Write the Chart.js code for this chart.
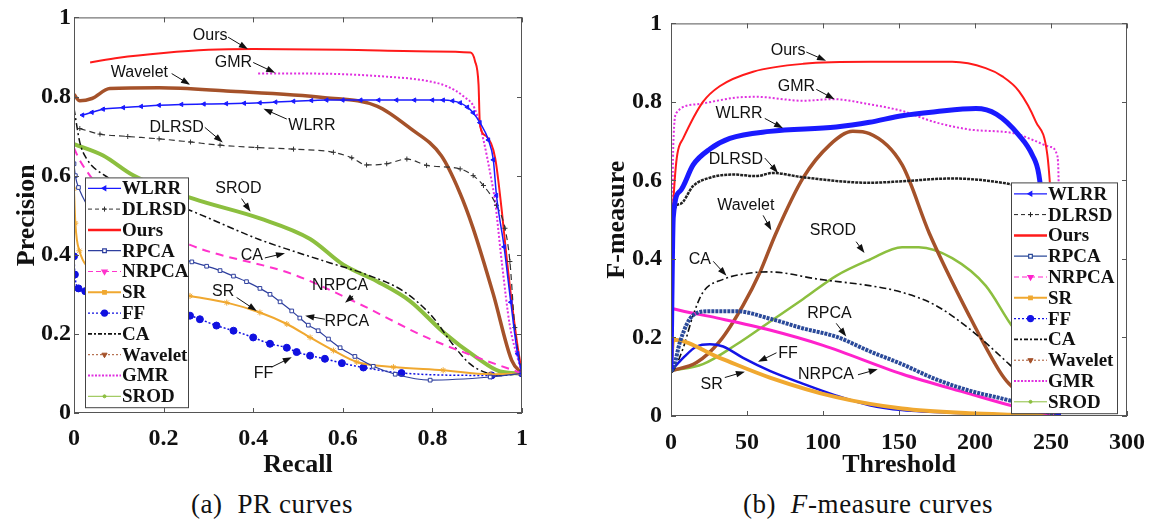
<!DOCTYPE html>
<html>
<head>
<meta charset="utf-8">
<script src="https://cdn.jsdelivr.net/npm/chart.js@4.4.1/dist/chart.umd.min.js"></script>
<style>
  body { margin: 0; background: #fff; width: 1157px; height: 529px; overflow: hidden; position: relative; }
  canvas { position: absolute; top: 0; }
  #prChart { left: 0; }
  #fmChart { left: 580px; }
  .cap { position: absolute; top: 489px; font-family: 'Liberation Serif', serif; font-size: 27px; letter-spacing: 0.6px; color: #111; white-space: nowrap; transform: translateX(-50%); }
</style>
</head>
<body>
<canvas id="prChart" width="545" height="485"></canvas>
<canvas id="fmChart" width="577" height="485"></canvas>
<div class="cap" style="left:272px">(a)&nbsp; PR curves</div>
<div class="cap" style="left:868px">(b)&nbsp; <i>F</i>-measure curves</div>
<script>
// methods, in legend order
const methods = ['WLRR', 'DLRSD', 'Ours', 'RPCA', 'NRPCA', 'SR', 'FF', 'CA', 'Wavelet', 'GMR', 'SROD'];

// tick labels
const prTicks = [0, 0.2, 0.4, 0.6, 0.8, 1];
const fmXTicks = [0, 50, 100, 150, 200, 250, 300];
const fmYTicks = [0, 0.2, 0.4, 0.6, 0.8, 1];

// (a) PR curves: [recall, precision]
const prWLRR = [[0.019,0.753],[0.04,0.760],[0.065,0.768],[0.11,0.772],[0.15,0.775],[0.19,0.778],[0.24,0.780],[0.29,0.781],[0.34,0.782],[0.38,0.783],[0.415,0.784],[0.45,0.786],[0.49,0.788],[0.53,0.790],[0.564,0.791],[0.60,0.791],[0.64,0.791],[0.68,0.791],[0.72,0.791],[0.76,0.791],[0.80,0.791],[0.824,0.791],[0.845,0.789],[0.862,0.784],[0.878,0.773],[0.891,0.759],[0.906,0.734],[0.925,0.69],[0.936,0.64],[0.943,0.55],[0.96,0.42],[0.975,0.28],[0.99,0.15],[1,0.1]];
const prDLRSD = [[0.013,0.719],[0.058,0.705],[0.12,0.699],[0.19,0.693],[0.26,0.685],[0.326,0.677],[0.41,0.671],[0.49,0.667],[0.579,0.659],[0.62,0.645],[0.653,0.627],[0.698,0.63],[0.743,0.642],[0.787,0.626],[0.862,0.617],[0.891,0.60],[0.914,0.575],[0.943,0.525],[0.962,0.467],[0.973,0.383],[0.984,0.216],[1,0.1]];
const prOurs = [[0.036,0.886],[0.1,0.898],[0.2,0.91],[0.3,0.918],[0.4,0.92],[0.6,0.918],[0.8,0.914],[0.885,0.911],[0.895,0.89],[0.903,0.83],[0.906,0.73],[0.92,0.70],[0.94,0.645],[0.955,0.51],[0.965,0.40],[0.975,0.30],[0.99,0.17],[1,0.1]];
const prRPCA = [[0,0.63],[0.003,0.60],[0.01,0.57],[0.1,0.45],[0.263,0.382],[0.296,0.371],[0.326,0.360],[0.356,0.346],[0.385,0.332],[0.415,0.315],[0.4375,0.30],[0.46,0.281],[0.486,0.258],[0.504,0.24],[0.523,0.222],[0.545,0.208],[0.568,0.187],[0.594,0.165],[0.627,0.143],[0.668,0.118],[0.717,0.098],[0.795,0.083],[0.929,0.091],[1,0.1]];
const prNRPCA = [[0,0.67],[0.01,0.645],[0.025,0.617],[0.05,0.58],[0.15,0.49],[0.259,0.425],[0.49,0.35],[0.638,0.275],[0.787,0.191],[0.899,0.141],[1,0.1]];
const prSR = [[0,0.567],[0.003,0.48],[0.012,0.41],[0.05,0.36],[0.15,0.32],[0.259,0.296],[0.341,0.279],[0.415,0.254],[0.475,0.225],[0.527,0.191],[0.579,0.158],[0.631,0.129],[0.713,0.116],[0.824,0.108],[0.929,0.098],[1,0.1]];
const prFF = [[0,0.396],[0.002,0.35],[0.01,0.315],[0.025,0.308],[0.1,0.28],[0.259,0.246],[0.281,0.237],[0.318,0.221],[0.356,0.208],[0.40,0.191],[0.4375,0.175],[0.475,0.165],[0.497,0.154],[0.527,0.145],[0.56,0.137],[0.598,0.126],[0.646,0.115],[0.731,0.101],[0.932,0.095],[1,0.1]];
const prCA = [[0,0.77],[0.013,0.684],[0.028,0.643],[0.065,0.603],[0.15,0.56],[0.266,0.509],[0.415,0.438],[0.49,0.409],[0.57,0.38],[0.653,0.35],[0.735,0.308],[0.802,0.241],[0.839,0.183],[0.884,0.124],[0.92,0.102],[0.951,0.095],[1,0.1]];
const prWavelet = [[0,0.805],[0.013,0.789],[0.04,0.795],[0.08,0.82],[0.19,0.822],[0.34,0.814],[0.56,0.797],[0.676,0.776],[0.75,0.72],[0.82,0.65],[0.86,0.56],[0.89,0.47],[0.936,0.30],[0.977,0.133],[1,0.1]];
const prGMR = [[0.411,0.858],[0.5,0.858],[0.586,0.857],[0.7,0.85],[0.78,0.841],[0.832,0.826],[0.87,0.80],[0.895,0.768],[0.914,0.69],[0.93,0.60],[0.94,0.534],[0.955,0.38],[0.973,0.22],[0.99,0.14],[1,0.1]];
const prSROD = [[0,0.68],[0.065,0.651],[0.132,0.601],[0.266,0.542],[0.415,0.492],[0.527,0.44],[0.601,0.375],[0.676,0.333],[0.75,0.283],[0.824,0.205],[0.899,0.14],[0.951,0.105],[1,0.1]];

// (b) F-measure curves: [threshold, F-measure]
const fmWLRR = [[0,0.12],[1.5,0.507],[6,0.573],[14.6,0.64],[25.6,0.68],[38.7,0.707],[65,0.725],[108.7,0.736],[130.6,0.748],[152,0.765],[174,0.775],[200.6,0.783],[214,0.769],[229,0.715],[237.7,0.665],[242,0.615],[248,0.4],[252,0.2],[255,0]];
const fmDLRSD = [[0,0.12],[1.5,0.515],[6,0.54],[14.6,0.586],[25.6,0.607],[41,0.615],[56,0.611],[67,0.619],[87,0.608],[130.6,0.594],[152,0.598],[185,0.605],[218,0.594],[227,0.586],[240,0.56],[248,0.5],[252,0.35],[255,0]];
const fmOurs = [[0,0.12],[1.5,0.54],[8,0.707],[21,0.80],[32,0.84],[54,0.877],[87,0.897],[131,0.902],[185,0.902],[207,0.886],[218,0.865],[229,0.827],[240,0.75],[247.6,0.665],[250,0.55],[252,0.4],[254,0.2],[255,0]];
const fmRPCA = [[0,0.115],[1.5,0.12],[6,0.19],[14.6,0.257],[25.6,0.267],[43,0.267],[65,0.248],[87,0.223],[108.7,0.202],[130.6,0.165],[152,0.132],[174,0.094],[196,0.065],[222.4,0.04],[240,0.02],[255,0]];
const fmNRPCA = [[0,0.275],[1.5,0.273],[30,0.25],[65,0.219],[100,0.18],[152,0.107],[196,0.057],[222.4,0.028],[240,0.012],[255,0]];
const fmSR = [[0,0.13],[1.5,0.194],[32,0.148],[65,0.098],[108.7,0.048],[152,0.019],[196,0.007],[229,0.003],[255,0]];
const fmFF = [[0,0.115],[8,0.148],[16.8,0.177],[25.6,0.183],[34.3,0.177],[47.4,0.148],[65,0.115],[87,0.082],[108.7,0.052],[130.6,0.0275],[152,0.015],[196,0.007],[229,0.003],[255,0]];
const fmCA = [[0,0.11],[1.5,0.115],[8,0.173],[14.6,0.257],[21,0.315],[34.3,0.348],[54,0.365],[65,0.367],[97.8,0.348],[130.6,0.332],[152,0.315],[174,0.282],[196,0.223],[218,0.148],[222.4,0.132],[235,0.09],[245,0.05],[255,0]];
const fmWavelet = [[0,0.115],[16.8,0.136],[32,0.19],[47.4,0.282],[58.4,0.365],[69,0.465],[87,0.607],[104.3,0.69],[119.6,0.725],[130.6,0.719],[152,0.64],[170,0.465],[196,0.257],[216,0.115],[222.4,0.082],[235,0.045],[245,0.02],[255,0]];
const fmGMR = [[0,0.13],[0.8,0.45],[1.5,0.69],[3.7,0.773],[16.8,0.794],[43,0.811],[56,0.813],[87,0.803],[106.5,0.807],[130.6,0.794],[152,0.777],[174,0.748],[196,0.73],[227,0.719],[240,0.70],[250,0.685],[254,0.665],[255.5,0.45],[256,0]];
const fmSROD = [[0,0.115],[21,0.132],[43,0.182],[65,0.24],[87,0.298],[108.7,0.357],[130.6,0.398],[152,0.43],[163,0.43],[185,0.402],[207,0.332],[222.4,0.24],[235,0.17],[245,0.09],[255,0]];

const prSeries = [prWLRR, prDLRSD, prOurs, prRPCA, prNRPCA, prSR, prFF, prCA, prWavelet, prGMR, prSROD];
const fmSeries = [fmWLRR, fmDLRSD, fmOurs, fmRPCA, fmNRPCA, fmSR, fmFF, fmCA, fmWavelet, fmGMR, fmSROD];

// curve labels with arrows: [text, textX, textY, fromX, fromY, toX, toY] in data units
const prNotes = [
  ['Ours', 0.304, 0.955, 0.344, 0.950, 0.388, 0.920],
  ['GMR', 0.356, 0.886, 0.400, 0.886, 0.449, 0.860],
  ['Wavelet', 0.146, 0.860, 0.218, 0.858, 0.259, 0.830],
  ['WLRR', 0.531, 0.726, 0.475, 0.743, 0.423, 0.769],
  ['DLRSD', 0.229, 0.722, 0.292, 0.722, 0.332, 0.684],
  ['SROD', 0.367, 0.566, 0.374, 0.542, 0.394, 0.509],
  ['CA', 0.397, 0.398, 0.426, 0.392, 0.471, 0.404],
  ['NRPCA', 0.594, 0.321, 0.623, 0.296, 0.605, 0.279],
  ['SR', 0.333, 0.308, 0.363, 0.292, 0.408, 0.258],
  ['RPCA', 0.609, 0.231, 0.560, 0.237, 0.516, 0.246],
  ['FF', 0.423, 0.100, 0.441, 0.116, 0.486, 0.141]
];
const fmNotes = [
  ['Ours', 77, 0.930, 89, 0.927, 102, 0.905],
  ['GMR', 82.5, 0.840, 95.6, 0.832, 107.6, 0.807],
  ['WLRR', 44.8, 0.769, 61.7, 0.758, 73.7, 0.733],
  ['DLRSD', 42.7, 0.652, 61.7, 0.657, 70.4, 0.619],
  ['Wavelet', 49.2, 0.536, 60.6, 0.511, 66, 0.473],
  ['SROD', 106.5, 0.471, 121.8, 0.444, 127.3, 0.415],
  ['CA', 19, 0.398, 27.8, 0.394, 36.5, 0.357],
  ['RPCA', 104.3, 0.261, 108.7, 0.236, 115.3, 0.2025],
  ['FF', 77, 0.158, 69.4, 0.161, 57.3, 0.138],
  ['NRPCA', 102, 0.105, 123, 0.105, 136, 0.119],
  ['SR', 26.7, 0.080, 35.4, 0.098, 48.6, 0.113]
];

// line styles per method (plot line, legend sample)
const prStyle = {
  WLRR:    { color: '#1a1aff', width: 1.5, dash: [], point: 'triangle', rot: -90, r: 2.5 },
  DLRSD:   { color: '#333333', width: 1.2, dash: [6, 4], point: 'cross', r: 2.5 },
  Ours:    { color: '#ff1a1a', width: 2, dash: [] },
  RPCA:    { color: '#2e3f9e', width: 1.2, dash: [], point: 'rect', r: 2.6, fill: '#ffffff' },
  NRPCA:   { color: '#ff33cc', width: 2, dash: [8, 6] },
  SR:      { color: '#f0a830', width: 2, dash: [], point: 'star', r: 3 },
  FF:      { color: '#1010e0', width: 1.5, dash: [2, 2], point: 'circle', r: 3.5 },
  CA:      { color: '#111111', width: 1.5, dash: [7, 3, 2, 3] },
  Wavelet: { color: '#a5522a', width: 3.5, dash: [] },
  GMR:     { color: '#e030e0', width: 2, dash: [2, 2] },
  SROD:    { color: '#8cbf3f', width: 4, dash: [] }
};
const fmStyle = {
  WLRR:    { color: '#1a1aff', width: 5, dash: [] },
  DLRSD:   { color: '#222222', width: 2.5, dash: [3, 1] },
  Ours:    { color: '#ff1a1a', width: 2, dash: [] },
  RPCA:    { color: '#2b4a9a', width: 4, dash: [3, 1] },
  NRPCA:   { color: '#ff22cc', width: 3, dash: [] },
  SR:      { color: '#f0a830', width: 4, dash: [] },
  FF:      { color: '#1414e6', width: 2.5, dash: [] },
  CA:      { color: '#111111', width: 1.6, dash: [7, 3, 2, 3] },
  Wavelet: { color: '#a5522a', width: 3.5, dash: [] },
  GMR:     { color: '#e030e0', width: 2, dash: [2, 2] },
  SROD:    { color: '#8cbf3f', width: 2.5, dash: [] }
};
const legendStyle = {
  WLRR:    { width: 1.2, dash: [], point: 'triangle', rot: -90, r: 2.5 },
  DLRSD:   { width: 1, dash: [4, 3], point: 'cross', r: 2.5 },
  Ours:    { width: 2.5, dash: [] },
  RPCA:    { width: 1.2, dash: [], point: 'rect', r: 2.6, fill: '#ffffff' },
  NRPCA:   { width: 1.2, dash: [5, 3], point: 'triangle', rot: 180, r: 3 },
  SR:      { width: 2, dash: [], point: 'rect', r: 2 },
  FF:      { width: 1.2, dash: [2, 2], point: 'circle', r: 3 },
  CA:      { width: 1.6, dash: [4, 2, 2, 2] },
  Wavelet: { width: 1, dash: [2, 2], point: 'triangle', rot: 180, r: 3 },
  GMR:     { width: 2, dash: [2, 1.5] },
  SROD:    { width: 1, dash: [], point: 'circle', r: 1.5 }
};

const serif = 'Liberation Serif';
const sans = 'Liberation Sans';

function makeDatasets(series, style) {
  return methods.map((m, i) => {
    const s = style[m];
    return {
      label: m,
      data: series[i],
      borderColor: s.color,
      borderWidth: s.width,
      borderDash: s.dash,
      pointStyle: s.point || 'circle',
      pointRadius: s.point ? s.r : 0,
      pointRotation: s.rot || 0,
      pointBackgroundColor: s.fill || s.color,
      pointBorderColor: s.color,
      pointBorderWidth: 1,
      pointHoverRadius: 0,
      fill: false,
      cubicInterpolationMode: 'monotone',
      lg: legendStyle[m]
    };
  });
}

// box with inward ticks on all four sides
const frame = {
  id: 'frame',
  afterDatasetsDraw(chart) {
    const { ctx, chartArea: a, scales } = chart;
    ctx.save();
    ctx.strokeStyle = '#555';
    ctx.lineWidth = 1;
    ctx.setLineDash([]);
    ctx.strokeRect(a.left + 0.5, a.top + 0.5, a.right - a.left - 1, a.bottom - a.top - 1);
    ctx.beginPath();
    scales.x.ticks.forEach(t => {
      const px = Math.round(scales.x.getPixelForValue(t.value)) + 0.5;
      ctx.moveTo(px, a.bottom); ctx.lineTo(px, a.bottom - 5);
      ctx.moveTo(px, a.top); ctx.lineTo(px, a.top + 5);
    });
    scales.y.ticks.forEach(t => {
      const py = Math.round(scales.y.getPixelForValue(t.value)) + 0.5;
      ctx.moveTo(a.left, py); ctx.lineTo(a.left + 5, py);
      ctx.moveTo(a.right, py); ctx.lineTo(a.right - 5, py);
    });
    ctx.stroke();
    ctx.restore();
  }
};

function arrow(ctx, x0, y0, x1, y1) {
  const a = Math.atan2(y1 - y0, x1 - x0);
  const c = Math.cos(a), s = Math.sin(a);
  ctx.beginPath();
  ctx.moveTo(x0, y0);
  ctx.lineTo(x1 - 6 * c, y1 - 6 * s);
  ctx.stroke();
  ctx.beginPath();
  ctx.moveTo(x1, y1);
  ctx.lineTo(x1 - 9 * c + 3.2 * s, y1 - 9 * s - 3.2 * c);
  ctx.lineTo(x1 - 9 * c - 3.2 * s, y1 - 9 * s + 3.2 * c);
  ctx.closePath();
  ctx.fill();
}

const notesPlugin = {
  id: 'notes',
  afterDatasetsDraw(chart, args, opts) {
    const { ctx, scales: { x, y } } = chart;
    ctx.save();
    ctx.font = '16px ' + sans;
    ctx.fillStyle = '#111';
    ctx.strokeStyle = '#111';
    ctx.lineWidth = 1;
    ctx.textAlign = 'center';
    ctx.textBaseline = 'middle';
    opts.items.forEach(n => {
      ctx.fillText(n[0], x.getPixelForValue(n[1]), y.getPixelForValue(n[2]));
      arrow(ctx, x.getPixelForValue(n[3]), y.getPixelForValue(n[4]),
            x.getPixelForValue(n[5]), y.getPixelForValue(n[6]));
    });
    ctx.restore();
  }
};

// boxed legend inside the axes
const boxLegend = {
  id: 'boxLegend',
  afterDraw(chart, args, opts) {
    const { ctx, chartArea: a } = chart;
    const bx = a.left + opts.left, by = a.top + opts.top;
    const rows = chart.data.datasets.length;
    const h = opts.row * rows + opts.pad * 2;
    ctx.save();
    ctx.fillStyle = '#fff';
    ctx.fillRect(bx, by, opts.width, h);
    ctx.strokeStyle = '#444';
    ctx.lineWidth = 1;
    ctx.setLineDash([]);
    ctx.strokeRect(bx + 0.5, by + 0.5, opts.width, h);
    chart.data.datasets.forEach((ds, i) => {
      const yy = by + opts.pad + opts.row * (i + 0.5);
      const lg = ds.lg;
      ctx.strokeStyle = ds.borderColor;
      ctx.lineWidth = lg.width;
      ctx.setLineDash(lg.dash);
      ctx.beginPath();
      ctx.moveTo(bx + 3, yy);
      ctx.lineTo(bx + 36, yy);
      ctx.stroke();
      ctx.setLineDash([]);
      if (lg.point) {
        ctx.fillStyle = lg.fill || ds.borderColor;
        ctx.strokeStyle = ds.borderColor;
        Chart.helpers.drawPoint(ctx, { pointStyle: lg.point, radius: lg.r, rotation: lg.rot || 0, borderWidth: 1 }, bx + 19.5, yy);
      }
      ctx.fillStyle = '#111';
      ctx.font = 'bold 19px ' + serif;
      ctx.textAlign = 'left';
      ctx.textBaseline = 'middle';
      ctx.fillText(ds.label, bx + 37, yy + 1);
    });
    ctx.restore();
  }
};

function axis(min, max, ticks, title, isX, size, tickPad, titlePad) {
  return {
    type: 'linear',
    min: min,
    max: max,
    afterBuildTicks: s => { s.ticks = ticks.map(v => ({ value: v })); },
    afterFit: s => { if (isX) s.height = size; else s.width = size; },
    grid: { display: false, drawTicks: false },
    border: { display: false },
    ticks: {
      font: { family: serif, size: 24, weight: 'bold' },
      color: '#111',
      padding: tickPad,
      maxRotation: 0,
      autoSkip: false,
      callback: v => String(Math.round(v * 10) / 10)
    },
    title: { display: true, text: title, font: { family: serif, size: 26, weight: 'bold' }, color: '#111', padding: titlePad }
  };
}

function makeChart(id, series, style, xTicks, yTicks, xMax, xTitle, yTitle, sizes, notes, legend) {
  return new Chart(document.getElementById(id).getContext('2d'), {
    type: 'line',
    data: { datasets: makeDatasets(series, style) },
    options: {
      responsive: false,
      animation: false,
      events: [],
      layout: { padding: { top: sizes.top, right: sizes.right, left: 0, bottom: 0 } },
      scales: {
        x: axis(0, xMax, xTicks, xTitle, true, sizes.xh, sizes.xPad, { top: 0, bottom: sizes.xTitle }),
        y: axis(0, 1, yTicks, yTitle, false, sizes.yw, sizes.yPad, { top: sizes.yTitle, bottom: 0 })
      },
      plugins: {
        legend: { display: false },
        tooltip: { enabled: false },
        notes: { items: notes },
        boxLegend: legend
      }
    },
    plugins: [frame, notesPlugin, boxLegend]
  });
}

makeChart('prChart', prSeries, prStyle, prTicks, prTicks, 1, 'Recall', 'Precision',
  { top: 14, right: 23, xh: 72, yw: 74, xPad: 11, yPad: 3, xTitle: 4, yTitle: 12 },
  prNotes, { left: 11, top: 160, width: 103, row: 20.8, pad: 0.5 });

makeChart('fmChart', fmSeries, fmStyle, fmXTicks, fmYTicks, 300, 'Threshold', 'F-measure',
  { top: 16, right: 29, xh: 69, yw: 91, xPad: 12, yPad: 9, xTitle: 4, yTitle: 22 },
  fmNotes, { left: 340, top: 159, width: 106, row: 20.8, pad: 1 });
</script>
</body>
</html>
